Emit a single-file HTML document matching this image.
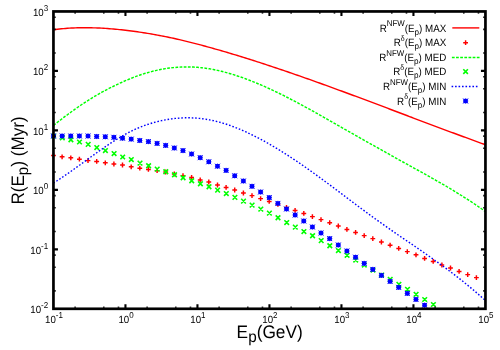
<!DOCTYPE html>
<html><head><meta charset="utf-8"><title>plot</title>
<style>
html,body{margin:0;padding:0;background:#fff;}
body{width:500px;height:350px;overflow:hidden;position:relative;font-family:"Liberation Sans",sans-serif;}
svg{position:absolute;left:0;top:0;filter:blur(0.45px);}
text{font-family:"Liberation Sans",sans-serif;fill:#000;text-rendering:geometricPrecision;}
</style></head><body>
<svg width="500" height="350" viewBox="0 0 500 350">
<rect width="500" height="350" fill="#fff"/>

<path d="M53.45,29.72 L55.45,29.46 L57.45,29.22 L59.45,28.99 L61.45,28.79 L63.45,28.60 L65.45,28.44 L67.45,28.29 L69.45,28.16 L71.45,28.04 L73.45,27.95 L75.45,27.87 L77.45,27.80 L79.45,27.76 L81.45,27.72 L83.45,27.71 L85.45,27.70 L87.45,27.71 L89.45,27.74 L91.45,27.78 L93.45,27.83 L95.45,27.90 L97.45,27.98 L99.45,28.07 L101.45,28.17 L103.45,28.28 L105.45,28.41 L107.45,28.55 L109.45,28.70 L111.45,28.86 L113.45,29.03 L115.45,29.21 L117.45,29.40 L119.45,29.60 L121.45,29.81 L123.45,30.03 L125.45,30.26 L127.45,30.50 L129.45,30.75 L131.45,31.00 L133.45,31.26 L135.45,31.53 L137.45,31.81 L139.45,32.10 L141.45,32.40 L143.45,32.70 L145.45,33.01 L147.45,33.34 L149.45,33.67 L151.45,34.00 L153.45,34.35 L155.45,34.71 L157.45,35.07 L159.45,35.44 L161.45,35.83 L163.45,36.22 L165.45,36.62 L167.45,37.02 L169.45,37.44 L171.45,37.87 L173.45,38.30 L175.45,38.75 L177.45,39.20 L179.45,39.66 L181.45,40.13 L183.45,40.60 L185.45,41.08 L187.45,41.57 L189.45,42.07 L191.45,42.57 L193.45,43.08 L195.45,43.60 L197.45,44.12 L199.45,44.65 L201.45,45.19 L203.45,45.72 L205.45,46.27 L207.45,46.82 L209.45,47.37 L211.45,47.93 L213.45,48.49 L215.45,49.06 L217.45,49.63 L219.45,50.20 L221.45,50.78 L223.45,51.36 L225.45,51.95 L227.45,52.54 L229.45,53.13 L231.45,53.73 L233.45,54.33 L235.45,54.93 L237.45,55.54 L239.45,56.15 L241.45,56.77 L243.45,57.39 L245.45,58.01 L247.45,58.63 L249.45,59.26 L251.45,59.89 L253.45,60.53 L255.45,61.17 L257.45,61.81 L259.45,62.45 L261.45,63.10 L263.45,63.75 L265.45,64.41 L267.45,65.06 L269.45,65.72 L271.45,66.38 L273.45,67.05 L275.45,67.72 L277.45,68.39 L279.45,69.06 L281.45,69.74 L283.45,70.42 L285.45,71.10 L287.45,71.78 L289.45,72.47 L291.45,73.15 L293.45,73.85 L295.45,74.54 L297.45,75.23 L299.45,75.93 L301.45,76.63 L303.45,77.33 L305.45,78.04 L307.45,78.75 L309.45,79.45 L311.45,80.16 L313.45,80.88 L315.45,81.59 L317.45,82.31 L319.45,83.03 L321.45,83.75 L323.45,84.47 L325.45,85.19 L327.45,85.91 L329.45,86.64 L331.45,87.37 L333.45,88.10 L335.45,88.83 L337.45,89.56 L339.45,90.30 L341.45,91.03 L343.45,91.77 L345.45,92.51 L347.45,93.24 L349.45,93.99 L351.45,94.73 L353.45,95.47 L355.45,96.21 L357.45,96.96 L359.45,97.70 L361.45,98.45 L363.45,99.20 L365.45,99.94 L367.45,100.69 L369.45,101.44 L371.45,102.19 L373.45,102.94 L375.45,103.70 L377.45,104.45 L379.45,105.20 L381.45,105.95 L383.45,106.71 L385.45,107.46 L387.45,108.22 L389.45,108.97 L391.45,109.73 L393.45,110.48 L395.45,111.24 L397.45,111.99 L399.45,112.75 L401.45,113.50 L403.45,114.26 L405.45,115.01 L407.45,115.77 L409.45,116.53 L411.45,117.28 L413.45,118.04 L415.45,118.79 L417.45,119.55 L419.45,120.30 L421.45,121.05 L423.45,121.81 L425.45,122.56 L427.45,123.31 L429.45,124.07 L431.45,124.82 L433.45,125.57 L435.45,126.32 L437.45,127.07 L439.45,127.82 L441.45,128.57 L443.45,129.31 L445.45,130.06 L447.45,130.80 L449.45,131.55 L451.45,132.29 L453.45,133.03 L455.45,133.77 L457.45,134.51 L459.45,135.25 L461.45,135.99 L463.45,136.73 L465.45,137.46 L467.45,138.20 L469.45,138.93 L471.45,139.66 L473.45,140.39 L475.45,141.12 L477.45,141.84 L479.45,142.57 L481.45,143.29 L483.45,144.01 L485.45,144.73" fill="none" stroke="#ff0000" stroke-width="1.4" stroke-linejoin="round"/>
<path d="M51.1,155.4H55.9M53.5,153.0V157.8M59.7,156.8H64.5M62.1,154.4V159.2M68.4,157.8H73.2M70.8,155.4V160.2M77.0,159.2H81.8M79.4,156.8V161.6M85.6,160.6H90.4M88.0,158.2V163.0M94.2,161.4H99.1M96.7,159.0V163.8M102.9,162.8H107.7M105.3,160.4V165.2M111.5,164.0H116.3M113.9,161.6V166.4M120.1,165.0H124.9M122.5,162.6V167.4M128.8,166.8H133.6M131.2,164.4V169.2M137.4,168.2H142.2M139.8,165.8V170.6M146.0,169.4H150.8M148.4,167.0V171.8M154.7,170.6H159.5M157.1,168.2V173.0M163.3,172.0H168.1M165.7,169.6V174.4M171.9,174.0H176.7M174.3,171.6V176.4M180.6,175.6H185.4M183.0,173.2V178.0M189.2,177.4H194.0M191.6,175.0V179.8M197.8,180.0H202.6M200.2,177.6V182.4M206.4,182.0H211.2M208.8,179.6V184.4M215.1,185.0H219.9M217.5,182.6V187.4M223.7,187.4H228.5M226.1,185.0V189.8M232.3,190.0H237.1M234.7,187.6V192.4M241.0,193.0H245.8M243.4,190.6V195.4M249.6,195.6H254.4M252.0,193.2V198.0M258.2,198.6H263.0M260.6,196.2V201.0M266.9,201.4H271.6M269.2,199.0V203.8M275.5,204.4H280.3M277.9,202.0V206.8M284.1,207.4H288.9M286.5,205.0V209.8M292.7,210.4H297.5M295.1,208.0V212.8M301.4,213.4H306.2M303.8,211.0V215.8M310.0,216.6H314.8M312.4,214.2V219.0M318.6,219.6H323.4M321.0,217.2V222.0M327.3,222.7H332.1M329.7,220.3V225.1M335.9,226.0H340.7M338.3,223.6V228.4M344.5,229.4H349.3M346.9,227.0V231.8M353.2,232.4H357.9M355.6,230.0V234.8M361.8,235.6H366.6M364.2,233.2V238.0M370.4,238.6H375.2M372.8,236.2V241.0M379.0,242.0H383.8M381.4,239.6V244.4M387.7,245.2H392.5M390.1,242.8V247.6M396.3,248.4H401.1M398.7,246.0V250.8M404.9,251.6H409.7M407.3,249.2V254.0M413.6,254.8H418.4M416.0,252.4V257.2M422.2,258.4H427.0M424.6,256.0V260.8M430.8,261.4H435.6M433.2,259.0V263.8M439.5,265.0H444.2M441.9,262.6V267.4M448.1,268.0H452.9M450.5,265.6V270.4M456.7,271.4H461.5M459.1,269.0V273.8M465.3,274.6H470.1M467.7,272.2V277.0M474.0,277.6H478.8M476.4,275.2V280.0" fill="none" stroke="#ff0000" stroke-width="1.45"/>
<path d="M53.45,125.38 L55.45,123.82 L57.45,122.28 L59.45,120.74 L61.45,119.22 L63.45,117.70 L65.45,116.20 L67.45,114.71 L69.45,113.24 L71.45,111.78 L73.45,110.34 L75.45,108.92 L77.45,107.51 L79.45,106.13 L81.45,104.77 L83.45,103.42 L85.45,102.11 L87.45,100.81 L89.45,99.54 L91.45,98.30 L93.45,97.09 L95.45,95.90 L97.45,94.73 L99.45,93.59 L101.45,92.47 L103.45,91.38 L105.45,90.31 L107.45,89.26 L109.45,88.23 L111.45,87.23 L113.45,86.24 L115.45,85.27 L117.45,84.32 L119.45,83.39 L121.45,82.48 L123.45,81.59 L125.45,80.71 L127.45,79.86 L129.45,79.03 L131.45,78.22 L133.45,77.43 L135.45,76.67 L137.45,75.94 L139.45,75.23 L141.45,74.55 L143.45,73.90 L145.45,73.27 L147.45,72.68 L149.45,72.12 L151.45,71.58 L153.45,71.07 L155.45,70.59 L157.45,70.15 L159.45,69.73 L161.45,69.33 L163.45,68.97 L165.45,68.64 L167.45,68.34 L169.45,68.06 L171.45,67.82 L173.45,67.60 L175.45,67.42 L177.45,67.26 L179.45,67.14 L181.45,67.04 L183.45,66.97 L185.45,66.94 L187.45,66.93 L189.45,66.95 L191.45,67.00 L193.45,67.09 L195.45,67.20 L197.45,67.34 L199.45,67.52 L201.45,67.72 L203.45,67.95 L205.45,68.22 L207.45,68.51 L209.45,68.83 L211.45,69.17 L213.45,69.55 L215.45,69.95 L217.45,70.38 L219.45,70.83 L221.45,71.31 L223.45,71.81 L225.45,72.33 L227.45,72.88 L229.45,73.45 L231.45,74.04 L233.45,74.65 L235.45,75.29 L237.45,75.94 L239.45,76.62 L241.45,77.31 L243.45,78.02 L245.45,78.75 L247.45,79.50 L249.45,80.26 L251.45,81.04 L253.45,81.84 L255.45,82.65 L257.45,83.48 L259.45,84.32 L261.45,85.18 L263.45,86.05 L265.45,86.93 L267.45,87.83 L269.45,88.74 L271.45,89.67 L273.45,90.61 L275.45,91.55 L277.45,92.51 L279.45,93.49 L281.45,94.47 L283.45,95.47 L285.45,96.47 L287.45,97.48 L289.45,98.51 L291.45,99.54 L293.45,100.59 L295.45,101.64 L297.45,102.70 L299.45,103.77 L301.45,104.85 L303.45,105.93 L305.45,107.02 L307.45,108.12 L309.45,109.22 L311.45,110.33 L313.45,111.45 L315.45,112.57 L317.45,113.69 L319.45,114.82 L321.45,115.95 L323.45,117.08 L325.45,118.22 L327.45,119.36 L329.45,120.50 L331.45,121.64 L333.45,122.78 L335.45,123.93 L337.45,125.07 L339.45,126.21 L341.45,127.36 L343.45,128.50 L345.45,129.64 L347.45,130.78 L349.45,131.92 L351.45,133.05 L353.45,134.19 L355.45,135.32 L357.45,136.46 L359.45,137.59 L361.45,138.72 L363.45,139.85 L365.45,140.98 L367.45,142.11 L369.45,143.24 L371.45,144.37 L373.45,145.49 L375.45,146.62 L377.45,147.74 L379.45,148.86 L381.45,149.99 L383.45,151.11 L385.45,152.23 L387.45,153.34 L389.45,154.46 L391.45,155.58 L393.45,156.69 L395.45,157.81 L397.45,158.92 L399.45,160.03 L401.45,161.14 L403.45,162.25 L405.45,163.36 L407.45,164.47 L409.45,165.57 L411.45,166.68 L413.45,167.78 L415.45,168.89 L417.45,169.99 L419.45,171.10 L421.45,172.21 L423.45,173.32 L425.45,174.43 L427.45,175.55 L429.45,176.67 L431.45,177.79 L433.45,178.92 L435.45,180.06 L437.45,181.20 L439.45,182.34 L441.45,183.50 L443.45,184.66 L445.45,185.82 L447.45,187.00 L449.45,188.18 L451.45,189.38 L453.45,190.58 L455.45,191.80 L457.45,193.02 L459.45,194.26 L461.45,195.51 L463.45,196.77 L465.45,198.04 L467.45,199.33 L469.45,200.63 L471.45,201.94 L473.45,203.27 L475.45,204.62 L477.45,205.98 L479.45,207.35 L481.45,208.75 L483.45,210.16 L485.45,211.59" fill="none" stroke="#00ff00" stroke-width="1.45" stroke-dasharray="2.75 1.4" stroke-linejoin="round"/>
<path d="M51.4,133.7L55.9,138.3M51.4,138.3L55.9,133.7M60.0,135.4L64.6,140.1M60.0,140.1L64.6,135.4M68.6,137.4L73.2,142.1M68.6,142.1L73.2,137.4M77.2,139.7L81.8,144.3M77.2,144.3L81.8,139.7M85.9,142.0L90.5,146.7M85.9,146.7L90.5,142.0M94.5,145.2L99.1,149.9M94.5,149.9L99.1,145.2M103.1,148.2L107.7,152.9M103.1,152.9L107.7,148.2M111.8,151.2L116.4,155.9M111.8,155.9L116.4,151.2M120.4,154.7L125.0,159.3M120.4,159.3L125.0,154.7M129.0,157.2L133.6,161.9M129.0,161.9L133.6,157.2M137.7,160.8L142.3,165.5M137.7,165.5L142.3,160.8M146.3,163.4L150.9,168.1M146.3,168.1L150.9,163.4M154.9,166.8L159.5,171.5M154.9,171.5L159.5,166.8M163.5,169.4L168.1,174.1M163.5,174.1L168.1,169.4M172.2,172.4L176.8,177.1M172.2,177.1L176.8,172.4M180.8,175.4L185.4,180.1M180.8,180.1L185.4,175.4M189.4,178.4L194.0,183.1M189.4,183.1L194.0,178.4M198.1,181.4L202.7,186.1M198.1,186.1L202.7,181.4M206.7,184.4L211.3,189.1M206.7,189.1L211.3,184.4M215.3,187.8L219.9,192.5M215.3,192.5L219.9,187.8M224.0,191.2L228.6,195.9M224.0,195.9L228.6,191.2M232.6,195.0L237.2,199.7M232.6,199.7L237.2,195.0M241.2,198.8L245.8,203.5M241.2,203.5L245.8,198.8M249.8,202.8L254.4,207.5M249.8,207.5L254.4,202.8M258.5,206.8L263.1,211.5M258.5,211.5L263.1,206.8M267.1,210.8L271.7,215.5M267.1,215.5L271.7,210.8M275.7,215.4L280.3,220.1M275.7,220.1L280.3,215.4M284.4,220.2L289.0,224.9M284.4,224.9L289.0,220.2M293.0,224.8L297.6,229.5M293.0,229.5L297.6,224.8M301.6,229.2L306.2,233.9M301.6,233.9L306.2,229.2M310.2,233.4L314.9,238.1M310.2,238.1L314.9,233.4M318.9,238.3L323.5,243.0M318.9,243.0L323.5,238.3M327.5,243.4L332.1,248.1M327.5,248.1L332.1,243.4M336.1,248.2L340.7,252.9M336.1,252.9L340.7,248.2M344.8,253.0L349.4,257.6M344.8,257.6L349.4,253.0M353.4,257.8L358.0,262.4M353.4,262.4L358.0,257.8M362.0,262.8L366.6,267.4M362.0,267.4L366.6,262.8M370.7,267.8L375.3,272.4M370.7,272.4L375.3,267.8M379.3,272.8L383.9,277.4M379.3,277.4L383.9,272.8M387.9,277.0L392.5,281.6M387.9,281.6L392.5,277.0M396.6,282.0L401.2,286.6M396.6,286.6L401.2,282.0M405.2,287.0L409.8,291.6M405.2,291.6L409.8,287.0M413.8,292.0L418.4,296.6M413.8,296.6L418.4,292.0M422.4,297.2L427.0,301.8M422.4,301.8L427.0,297.2M431.1,302.2L435.7,306.8M431.1,306.8L435.7,302.2" fill="none" stroke="#00ff00" stroke-width="1.6"/>
<path d="M53.45,183.08 L55.45,181.82 L57.45,180.53 L59.45,179.22 L61.45,177.88 L63.45,176.53 L65.45,175.17 L67.45,173.78 L69.45,172.38 L71.45,170.97 L73.45,169.55 L75.45,168.12 L77.45,166.68 L79.45,165.24 L81.45,163.79 L83.45,162.34 L85.45,160.89 L87.45,159.44 L89.45,157.99 L91.45,156.54 L93.45,155.10 L95.45,153.67 L97.45,152.25 L99.45,150.83 L101.45,149.43 L103.45,148.04 L105.45,146.67 L107.45,145.31 L109.45,143.98 L111.45,142.66 L113.45,141.36 L115.45,140.09 L117.45,138.85 L119.45,137.63 L121.45,136.45 L123.45,135.30 L125.45,134.18 L127.45,133.10 L129.45,132.07 L131.45,131.07 L133.45,130.11 L135.45,129.20 L137.45,128.32 L139.45,127.49 L141.45,126.69 L143.45,125.93 L145.45,125.20 L147.45,124.51 L149.45,123.86 L151.45,123.24 L153.45,122.66 L155.45,122.11 L157.45,121.59 L159.45,121.11 L161.45,120.66 L163.45,120.24 L165.45,119.85 L167.45,119.50 L169.45,119.18 L171.45,118.89 L173.45,118.64 L175.45,118.42 L177.45,118.23 L179.45,118.08 L181.45,117.96 L183.45,117.87 L185.45,117.82 L187.45,117.80 L189.45,117.81 L191.45,117.86 L193.45,117.95 L195.45,118.06 L197.45,118.22 L199.45,118.40 L201.45,118.62 L203.45,118.88 L205.45,119.17 L207.45,119.49 L209.45,119.85 L211.45,120.25 L213.45,120.67 L215.45,121.14 L217.45,121.63 L219.45,122.16 L221.45,122.73 L223.45,123.32 L225.45,123.94 L227.45,124.59 L229.45,125.28 L231.45,125.99 L233.45,126.73 L235.45,127.50 L237.45,128.29 L239.45,129.11 L241.45,129.96 L243.45,130.83 L245.45,131.73 L247.45,132.65 L249.45,133.59 L251.45,134.55 L253.45,135.54 L255.45,136.55 L257.45,137.58 L259.45,138.63 L261.45,139.69 L263.45,140.78 L265.45,141.88 L267.45,143.01 L269.45,144.15 L271.45,145.31 L273.45,146.48 L275.45,147.67 L277.45,148.88 L279.45,150.10 L281.45,151.34 L283.45,152.59 L285.45,153.86 L287.45,155.14 L289.45,156.44 L291.45,157.75 L293.45,159.07 L295.45,160.41 L297.45,161.76 L299.45,163.12 L301.45,164.49 L303.45,165.87 L305.45,167.27 L307.45,168.67 L309.45,170.09 L311.45,171.51 L313.45,172.95 L315.45,174.39 L317.45,175.84 L319.45,177.30 L321.45,178.76 L323.45,180.23 L325.45,181.71 L327.45,183.19 L329.45,184.68 L331.45,186.17 L333.45,187.67 L335.45,189.17 L337.45,190.67 L339.45,192.18 L341.45,193.68 L343.45,195.19 L345.45,196.69 L347.45,198.20 L349.45,199.71 L351.45,201.21 L353.45,202.71 L355.45,204.21 L357.45,205.71 L359.45,207.21 L361.45,208.70 L363.45,210.18 L365.45,211.66 L367.45,213.14 L369.45,214.61 L371.45,216.07 L373.45,217.52 L375.45,218.97 L377.45,220.41 L379.45,221.84 L381.45,223.27 L383.45,224.69 L385.45,226.10 L387.45,227.51 L389.45,228.91 L391.45,230.31 L393.45,231.70 L395.45,233.08 L397.45,234.46 L399.45,235.84 L401.45,237.21 L403.45,238.57 L405.45,239.93 L407.45,241.29 L409.45,242.65 L411.45,244.02 L413.45,245.38 L415.45,246.75 L417.45,248.12 L419.45,249.50 L421.45,250.88 L423.45,252.27 L425.45,253.66 L427.45,255.06 L429.45,256.47 L431.45,257.88 L433.45,259.30 L435.45,260.73 L437.45,262.16 L439.45,263.60 L441.45,265.06 L443.45,266.52 L445.45,268.00 L447.45,269.48 L449.45,270.98 L451.45,272.49 L453.45,274.01 L455.45,275.55 L457.45,277.10 L459.45,278.66 L461.45,280.24 L463.45,281.83 L465.45,283.44 L467.45,285.07 L469.45,286.71 L471.45,288.38 L473.45,290.06 L475.45,291.76 L477.45,293.47 L479.45,295.21 L481.45,296.97 L483.45,298.75 L485.45,300.55" fill="none" stroke="#0000ff" stroke-width="1.4" stroke-dasharray="1.6 1.87" stroke-linejoin="round"/>
<g fill="#0000ff"><rect x="51.35" y="133.85" width="4.3" height="4.3"/><rect x="59.98" y="133.85" width="4.3" height="4.3"/><rect x="68.61" y="133.85" width="4.3" height="4.3"/><rect x="77.24" y="133.85" width="4.3" height="4.3"/><rect x="85.87" y="133.85" width="4.3" height="4.3"/><rect x="94.50" y="134.35" width="4.3" height="4.3"/><rect x="103.13" y="134.65" width="4.3" height="4.3"/><rect x="111.76" y="135.15" width="4.3" height="4.3"/><rect x="120.39" y="136.05" width="4.3" height="4.3"/><rect x="129.02" y="136.95" width="4.3" height="4.3"/><rect x="137.65" y="138.35" width="4.3" height="4.3"/><rect x="146.28" y="139.45" width="4.3" height="4.3"/><rect x="154.91" y="141.25" width="4.3" height="4.3"/><rect x="163.54" y="143.25" width="4.3" height="4.3"/><rect x="172.17" y="145.85" width="4.3" height="4.3"/><rect x="180.80" y="148.45" width="4.3" height="4.3"/><rect x="189.43" y="151.85" width="4.3" height="4.3"/><rect x="198.06" y="155.55" width="4.3" height="4.3"/><rect x="206.69" y="159.65" width="4.3" height="4.3"/><rect x="215.32" y="164.05" width="4.3" height="4.3"/><rect x="223.95" y="168.25" width="4.3" height="4.3"/><rect x="232.58" y="173.65" width="4.3" height="4.3"/><rect x="241.21" y="178.85" width="4.3" height="4.3"/><rect x="249.84" y="184.15" width="4.3" height="4.3"/><rect x="258.47" y="189.85" width="4.3" height="4.3"/><rect x="267.10" y="195.45" width="4.3" height="4.3"/><rect x="275.73" y="201.25" width="4.3" height="4.3"/><rect x="284.36" y="206.85" width="4.3" height="4.3"/><rect x="292.99" y="212.85" width="4.3" height="4.3"/><rect x="301.62" y="218.85" width="4.3" height="4.3"/><rect x="310.25" y="224.85" width="4.3" height="4.3"/><rect x="318.88" y="230.85" width="4.3" height="4.3"/><rect x="327.51" y="236.45" width="4.3" height="4.3"/><rect x="336.14" y="242.85" width="4.3" height="4.3"/><rect x="344.77" y="248.85" width="4.3" height="4.3"/><rect x="353.40" y="255.05" width="4.3" height="4.3"/><rect x="362.03" y="261.25" width="4.3" height="4.3"/><rect x="370.66" y="267.25" width="4.3" height="4.3"/><rect x="379.29" y="273.25" width="4.3" height="4.3"/><rect x="387.92" y="279.25" width="4.3" height="4.3"/><rect x="396.55" y="285.25" width="4.3" height="4.3"/><rect x="405.18" y="291.25" width="4.3" height="4.3"/><rect x="413.81" y="297.25" width="4.3" height="4.3"/><rect x="422.44" y="303.05" width="4.3" height="4.3"/></g>
<path d="M51.0,133.5L56.0,138.5M51.0,138.5L56.0,133.5M50.9,136.0H56.1M53.5,133.4V138.6M59.6,133.5L64.6,138.5M59.6,138.5L64.6,133.5M59.5,136.0H64.7M62.1,133.4V138.6M68.3,133.5L73.3,138.5M68.3,138.5L73.3,133.5M68.2,136.0H73.4M70.8,133.4V138.6M76.9,133.5L81.9,138.5M76.9,138.5L81.9,133.5M76.8,136.0H82.0M79.4,133.4V138.6M85.5,133.5L90.5,138.5M85.5,138.5L90.5,133.5M85.4,136.0H90.6M88.0,133.4V138.6M94.2,134.0L99.2,139.0M94.2,139.0L99.2,134.0M94.1,136.5H99.2M96.7,133.9V139.1M102.8,134.3L107.8,139.3M102.8,139.3L107.8,134.3M102.7,136.8H107.9M105.3,134.2V139.4M111.4,134.8L116.4,139.8M111.4,139.8L116.4,134.8M111.3,137.3H116.5M113.9,134.7V139.9M120.0,135.7L125.0,140.7M120.0,140.7L125.0,135.7M119.9,138.2H125.1M122.5,135.6V140.8M128.7,136.6L133.7,141.6M128.7,141.6L133.7,136.6M128.6,139.1H133.8M131.2,136.5V141.7M137.3,138.0L142.3,143.0M137.3,143.0L142.3,138.0M137.2,140.5H142.4M139.8,137.9V143.1M145.9,139.1L150.9,144.1M145.9,144.1L150.9,139.1M145.8,141.6H151.0M148.4,139.0V144.2M154.6,140.9L159.6,145.9M154.6,145.9L159.6,140.9M154.5,143.4H159.7M157.1,140.8V146.0M163.2,142.9L168.2,147.9M163.2,147.9L168.2,142.9M163.1,145.4H168.3M165.7,142.8V148.0M171.8,145.5L176.8,150.5M171.8,150.5L176.8,145.5M171.7,148.0H176.9M174.3,145.4V150.6M180.5,148.1L185.5,153.1M180.5,153.1L185.5,148.1M180.4,150.6H185.6M183.0,148.0V153.2M189.1,151.5L194.1,156.5M189.1,156.5L194.1,151.5M189.0,154.0H194.2M191.6,151.4V156.6M197.7,155.2L202.7,160.2M197.7,160.2L202.7,155.2M197.6,157.7H202.8M200.2,155.1V160.3M206.3,159.3L211.3,164.3M206.3,164.3L211.3,159.3M206.2,161.8H211.4M208.8,159.2V164.4M215.0,163.7L220.0,168.7M215.0,168.7L220.0,163.7M214.9,166.2H220.1M217.5,163.6V168.8M223.6,167.9L228.6,172.9M223.6,172.9L228.6,167.9M223.5,170.4H228.7M226.1,167.8V173.0M232.2,173.3L237.2,178.3M232.2,178.3L237.2,173.3M232.1,175.8H237.3M234.7,173.2V178.4M240.9,178.5L245.9,183.5M240.9,183.5L245.9,178.5M240.8,181.0H246.0M243.4,178.4V183.6M249.5,183.8L254.5,188.8M249.5,188.8L254.5,183.8M249.4,186.3H254.6M252.0,183.7V188.9M258.1,189.5L263.1,194.5M258.1,194.5L263.1,189.5M258.0,192.0H263.2M260.6,189.4V194.6M266.8,195.1L271.8,200.1M266.8,200.1L271.8,195.1M266.6,197.6H271.9M269.2,195.0V200.2M275.4,200.9L280.4,205.9M275.4,205.9L280.4,200.9M275.3,203.4H280.5M277.9,200.8V206.0M284.0,206.5L289.0,211.5M284.0,211.5L289.0,206.5M283.9,209.0H289.1M286.5,206.4V211.6M292.6,212.5L297.6,217.5M292.6,217.5L297.6,212.5M292.5,215.0H297.7M295.1,212.4V217.6M301.3,218.5L306.3,223.5M301.3,223.5L306.3,218.5M301.2,221.0H306.4M303.8,218.4V223.6M309.9,224.5L314.9,229.5M309.9,229.5L314.9,224.5M309.8,227.0H315.0M312.4,224.4V229.6M318.5,230.5L323.5,235.5M318.5,235.5L323.5,230.5M318.4,233.0H323.6M321.0,230.4V235.6M327.2,236.1L332.2,241.1M327.2,241.1L332.2,236.1M327.1,238.6H332.3M329.7,236.0V241.2M335.8,242.5L340.8,247.5M335.8,247.5L340.8,242.5M335.7,245.0H340.9M338.3,242.4V247.6M344.4,248.5L349.4,253.5M344.4,253.5L349.4,248.5M344.3,251.0H349.5M346.9,248.4V253.6M353.1,254.7L358.1,259.7M353.1,259.7L358.1,254.7M352.9,257.2H358.2M355.6,254.6V259.8M361.7,260.9L366.7,265.9M361.7,265.9L366.7,260.9M361.6,263.4H366.8M364.2,260.8V266.0M370.3,266.9L375.3,271.9M370.3,271.9L375.3,266.9M370.2,269.4H375.4M372.8,266.8V272.0M378.9,272.9L383.9,277.9M378.9,277.9L383.9,272.9M378.8,275.4H384.0M381.4,272.8V278.0M387.6,278.9L392.6,283.9M387.6,283.9L392.6,278.9M387.5,281.4H392.7M390.1,278.8V284.0M396.2,284.9L401.2,289.9M396.2,289.9L401.2,284.9M396.1,287.4H401.3M398.7,284.8V290.0M404.8,290.9L409.8,295.9M404.8,295.9L409.8,290.9M404.7,293.4H409.9M407.3,290.8V296.0M413.5,296.9L418.5,301.9M413.5,301.9L418.5,296.9M413.4,299.4H418.6M416.0,296.8V302.0M422.1,302.7L427.1,307.7M422.1,307.7L427.1,302.7M422.0,305.2H427.2M424.6,302.6V307.8" fill="none" stroke="#0000ff" stroke-width="0.9"/>
<path d="M75.12,308.8v-2.4M75.12,11.45v2.4M103.78,308.8v-2.4M103.78,11.45v2.4M118.47,308.8v-2.4M118.47,11.45v2.4M147.12,308.8v-2.4M147.12,11.45v2.4M175.78,308.8v-2.4M175.78,11.45v2.4M190.47,308.8v-2.4M190.47,11.45v2.4M219.12,308.8v-2.4M219.12,11.45v2.4M247.78,308.8v-2.4M247.78,11.45v2.4M262.47,308.8v-2.4M262.47,11.45v2.4M291.12,308.8v-2.4M291.12,11.45v2.4M319.78,308.8v-2.4M319.78,11.45v2.4M334.47,308.8v-2.4M334.47,11.45v2.4M363.12,308.8v-2.4M363.12,11.45v2.4M391.78,308.8v-2.4M391.78,11.45v2.4M406.47,308.8v-2.4M406.47,11.45v2.4M435.12,308.8v-2.4M435.12,11.45v2.4M463.78,308.8v-2.4M463.78,11.45v2.4M478.47,308.8v-2.4M478.47,11.45v2.4M53.45,290.90h2.4M485.45,290.90h-2.4M53.45,267.23h2.4M485.45,267.23h-2.4M53.45,255.09h2.4M485.45,255.09h-2.4M53.45,231.43h2.4M485.45,231.43h-2.4M53.45,207.76h2.4M485.45,207.76h-2.4M53.45,195.62h2.4M485.45,195.62h-2.4M53.45,171.96h2.4M485.45,171.96h-2.4M53.45,148.29h2.4M485.45,148.29h-2.4M53.45,136.15h2.4M485.45,136.15h-2.4M53.45,112.49h2.4M485.45,112.49h-2.4M53.45,88.82h2.4M485.45,88.82h-2.4M53.45,76.68h2.4M485.45,76.68h-2.4M53.45,53.02h2.4M485.45,53.02h-2.4M53.45,29.35h2.4M485.45,29.35h-2.4M53.45,17.21h2.4M485.45,17.21h-2.4" fill="none" stroke="#000" stroke-width="1.6" stroke-opacity="0.8"/>
<path d="M125.45,308.8v-4.5M125.45,11.45v4.5M197.45,308.8v-4.5M197.45,11.45v4.5M269.45,308.8v-4.5M269.45,11.45v4.5M341.45,308.8v-4.5M341.45,11.45v4.5M413.45,308.8v-4.5M413.45,11.45v4.5M53.45,249.33h4.5M485.45,249.33h-4.5M53.45,189.86h4.5M485.45,189.86h-4.5M53.45,130.39h4.5M485.45,130.39h-4.5M53.45,70.92h4.5M485.45,70.92h-4.5" fill="none" stroke="#000" stroke-width="2.1"/>
<rect x="53.45" y="11.45" width="432.0" height="297.35" fill="none" stroke="#000" stroke-width="2.7"/>
<text transform="translate(48.2,313.2) scale(1,1.07)" text-anchor="end" font-size="9.7">10<tspan dy="-4.6" font-size="8">-2</tspan></text>
<text transform="translate(48.2,253.7) scale(1,1.07)" text-anchor="end" font-size="9.7">10<tspan dy="-4.6" font-size="8">-1</tspan></text>
<text transform="translate(48.2,194.3) scale(1,1.07)" text-anchor="end" font-size="9.7">10<tspan dy="-4.6" font-size="8">0</tspan></text>
<text transform="translate(48.2,134.8) scale(1,1.07)" text-anchor="end" font-size="9.7">10<tspan dy="-4.6" font-size="8">1</tspan></text>
<text transform="translate(48.2,75.3) scale(1,1.07)" text-anchor="end" font-size="9.7">10<tspan dy="-4.6" font-size="8">2</tspan></text>
<text transform="translate(48.2,15.8) scale(1,1.07)" text-anchor="end" font-size="9.7">10<tspan dy="-4.6" font-size="8">3</tspan></text>
<text transform="translate(54.0,323) scale(1,1.07)" text-anchor="middle" font-size="9.7">10<tspan dy="-4.6" font-size="8">-1</tspan></text>
<text transform="translate(126.0,323) scale(1,1.07)" text-anchor="middle" font-size="9.7">10<tspan dy="-4.6" font-size="8">0</tspan></text>
<text transform="translate(197.9,323) scale(1,1.07)" text-anchor="middle" font-size="9.7">10<tspan dy="-4.6" font-size="8">1</tspan></text>
<text transform="translate(269.9,323) scale(1,1.07)" text-anchor="middle" font-size="9.7">10<tspan dy="-4.6" font-size="8">2</tspan></text>
<text transform="translate(341.9,323) scale(1,1.07)" text-anchor="middle" font-size="9.7">10<tspan dy="-4.6" font-size="8">3</tspan></text>
<text transform="translate(413.9,323) scale(1,1.07)" text-anchor="middle" font-size="9.7">10<tspan dy="-4.6" font-size="8">4</tspan></text>
<text transform="translate(485.9,323) scale(1,1.07)" text-anchor="middle" font-size="9.7">10<tspan dy="-4.6" font-size="8">5</tspan></text>
<text transform="translate(236.6,337.7) scale(1,1.05)" font-size="17.3">E<tspan dy="4" font-size="15.3">p</tspan><tspan dy="-4">(GeV)</tspan></text>
<text transform="translate(24,204.6) rotate(-90) scale(1,1.06)" font-size="17.1">R(E<tspan dy="4" font-size="15.1">p</tspan><tspan dy="-4">) (Myr)</tspan></text>
<text transform="translate(446.3,31.5) scale(1,1.07)" text-anchor="end" font-size="9.8">R<tspan dy="-4.8" font-size="7.9">NFW</tspan><tspan dy="4.8">(E</tspan><tspan dy="2.8" font-size="8.1">p</tspan><tspan dy="-2.8">) MAX</tspan></text>
<text transform="translate(446.3,46.3) scale(1,1.07)" text-anchor="end" font-size="9.8">R<tspan dy="-5.0" font-size="7.0">δ</tspan><tspan dy="5.0">(E</tspan><tspan dy="2.8" font-size="8.1">p</tspan><tspan dy="-2.8">) MAX</tspan></text>
<text transform="translate(446.3,61.0) scale(1,1.07)" text-anchor="end" font-size="9.8">R<tspan dy="-4.8" font-size="7.9">NFW</tspan><tspan dy="4.8">(E</tspan><tspan dy="2.8" font-size="8.1">p</tspan><tspan dy="-2.8">) MED</tspan></text>
<text transform="translate(446.3,75.2) scale(1,1.07)" text-anchor="end" font-size="9.8">R<tspan dy="-5.0" font-size="7.0">δ</tspan><tspan dy="5.0">(E</tspan><tspan dy="2.8" font-size="8.1">p</tspan><tspan dy="-2.8">) MED</tspan></text>
<text transform="translate(446.3,90.1) scale(1,1.07)" text-anchor="end" font-size="9.8">R<tspan dy="-4.8" font-size="7.9">NFW</tspan><tspan dy="4.8">(E</tspan><tspan dy="2.8" font-size="8.1">p</tspan><tspan dy="-2.8">) MIN</tspan></text>
<text transform="translate(446.3,104.6) scale(1,1.07)" text-anchor="end" font-size="9.8">R<tspan dy="-5.0" font-size="7.0">δ</tspan><tspan dy="5.0">(E</tspan><tspan dy="2.8" font-size="8.1">p</tspan><tspan dy="-2.8">) MIN</tspan></text>
<path d="M452.3,27.9H479.3" stroke="#ff0000" stroke-width="1.4"/>
<path d="M463.2,42.7H468.0M465.6,40.3V45.1" stroke="#ff0000" stroke-width="1.45" fill="none"/>
<path d="M451.9,57.4H479.9" stroke="#00ff00" stroke-width="1.45" stroke-dasharray="2.75 1.4"/>
<path d="M463.3,69.3L467.9,73.9M463.3,73.9L467.9,69.3" stroke="#00ff00" stroke-width="1.6" fill="none"/>
<path d="M451.6,86.5H479.3" stroke="#0000ff" stroke-width="1.4" stroke-dasharray="1.6 1.87"/>
<rect x="463.45000000000005" y="98.85" width="4.3" height="4.3" fill="#0000ff"/><path d="M463.1,98.5L468.1,103.5M463.1,103.5L468.1,98.5M463.0,101.0H468.2M465.6,98.4V103.6" stroke="#0000ff" stroke-width="0.9" fill="none"/>
</svg></body></html>
